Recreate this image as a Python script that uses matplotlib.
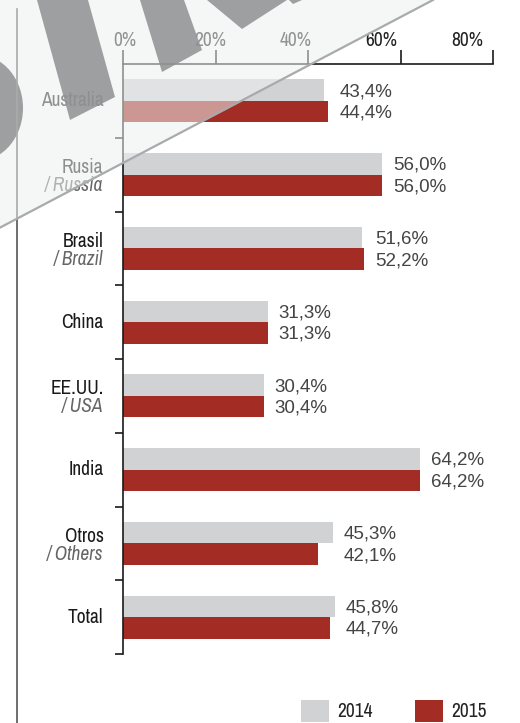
import numpy as np
import matplotlib.pyplot as plt
from matplotlib.patches import Polygon, Ellipse
from matplotlib.lines import Line2D

# data
paises = ['Australia', 'Rusia', 'Brasil', 'China', 'EE.UU.', 'India', 'Otros', 'Total']
paises_en = ['', '/ Russia', '/ Brazil', '', '/ USA', '', '/ Others', '']
v2014 = [43.4, 56.0, 51.6, 31.3, 30.4, 64.2, 45.3, 45.8]
v2015 = [44.4, 56.0, 52.2, 31.3, 30.4, 64.2, 42.1, 44.7]
xticks = [0, 20, 40, 60, 80]
xtick_labels = ['0%', '20%', '40%', '60%', '80%']

GRIS = '#d1d2d4'
ROJO = '#a32d24'
NARROW = ['Archivo Narrow', 'DejaVu Sans']
REG = ['Liberation Sans', 'DejaVu Sans']

W, H = 520, 723
fig = plt.figure(figsize=(W / 100, H / 100), dpi=100)
fig.patch.set_facecolor('white')


def px(x, y):
    return (x / W, 1 - y / H)


ax = fig.add_axes([123 / W, 1 - 654 / H, (493 - 123) / W, (654 - 64) / H])
ax.patch.set_visible(False)
n = len(paises)
y = np.arange(n)
h = 0.29
ax.barh(y - h / 2, v2014, height=h, color=GRIS, label='2014')
ax.barh(y + h / 2, v2015, height=h, color=ROJO, label='2015')
ax.set_xlim(0, 80)
ax.set_ylim(n - 0.5, -0.5)

for s in ['right', 'bottom']:
    ax.spines[s].set_visible(False)
for s in ['top', 'left']:
    ax.spines[s].set_linewidth(1.2)
    ax.spines[s].set_color('#1a1a1a')

ax.xaxis.set_ticks_position('top')
ax.xaxis.remove_overlapping_locs = False
ax.set_xticks(xticks, [''] * len(xticks))
ax.tick_params(axis='x', which='major', length=10, width=1.2, color='#1a1a1a')
# labels sit a little left of their tick marks in the original
ax.set_xticks([v * 0.927 + 0.3 for v in xticks], xtick_labels, minor=True)
ax.tick_params(axis='x', which='minor', length=0, pad=10, labelsize=14, labelcolor='#222222')
for t in ax.get_xticklabels(minor=True):
    t.set_family(NARROW)

ax.set_yticks(np.arange(n) + 0.5)
ax.set_yticklabels([])
ax.tick_params(axis='y', length=6, width=1.2, color='#1a1a1a')

for i in range(n):
    if paises_en[i]:
        ax.text(-4.2, i - 0.095, paises[i], ha='right', va='center', fontsize=14,
                family=NARROW, color='#1a1a1a', clip_on=False)
        ax.text(-4.2, i + 0.15, paises_en[i], ha='right', va='center', fontsize=14,
                family=NARROW, style='italic', color='#666666', clip_on=False)
    else:
        ax.text(-4.2, i, paises[i], ha='right', va='center', fontsize=14,
                family=NARROW, color='#1a1a1a', clip_on=False)
    xe = max(v2014[i], v2015[i])
    for val, dy in [(v2014[i], -h / 2), (v2015[i], h / 2)]:
        ax.annotate(('%.1f%%' % val).replace('.', ','), (xe, i + dy),
                    xytext=(11, -1.5), textcoords='offset pixels', ha='left', va='center',
                    fontsize=13.5, family=REG, color='#444444', annotation_clip=False)

leg = fig.legend(loc='center left', bbox_to_anchor=px(301, 711), ncol=2, frameon=False,
                 prop={'family': NARROW, 'size': 14}, handlelength=1.45,
                 handleheight=1.4, handletextpad=0.4, columnspacing=2.2, borderpad=0,
                 borderaxespad=0)
for t in leg.get_texts():
    t.set_color('#222222')

# vertical rule on the far left
fig.add_artist(Line2D([px(17, 9)[0]] * 2, [px(17, 9)[1], 0], color='#555555', lw=1.2, zorder=3))

# watermark shapes (under the text) and the light overlay in the top-left corner
gris_marca = '#3e3e40'
formas = [
    [(37, 0), (88, 0), (115, 97), (70, 120)],
    [(140, 0), (184, 0), (202, 50), (162, 72)],
    [(207, 0), (287, 0), (242, 29)],
    [(289, 0), (302, 0), (293, 4)],
]
for f in formas:
    fig.add_artist(Polygon([px(a, b) for a, b in f], closed=True, facecolor=gris_marca,
                           edgecolor='none', zorder=-1))
fig.add_artist(Ellipse(px(-22, 108), 90 / W, 106 / H, facecolor=gris_marca,
                       edgecolor='none', zorder=-1))
fig.add_artist(Polygon([px(0, 0), px(433, 0), px(0, 227.6)], closed=True,
                       facecolor='#eef0f0', alpha=0.55, edgecolor='none', zorder=5))
fig.add_artist(Line2D([px(0, 227.6)[0], px(433, 0)[0]], [px(0, 227.6)[1], px(433, 0)[1]],
                      color='#a9aaab', lw=1.6, zorder=6))

fig.savefig('out.png', dpi=100)
